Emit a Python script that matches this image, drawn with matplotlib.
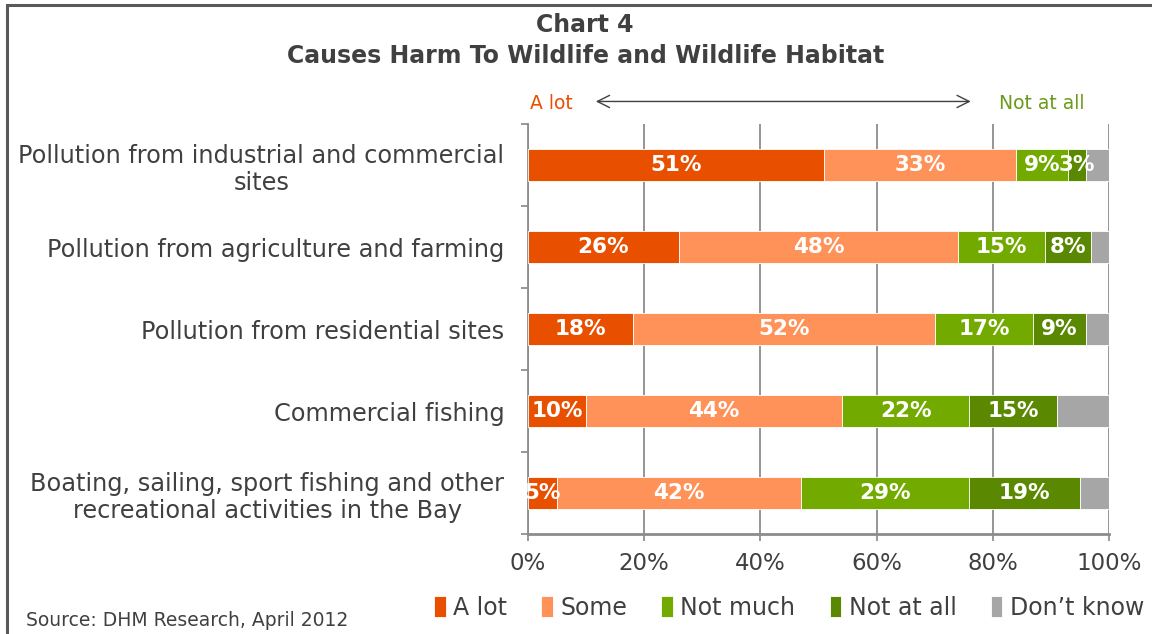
import matplotlib
matplotlib.use("Agg")
import matplotlib.pyplot as plt
from matplotlib.patches import Rectangle
import numpy as np

plt.rcParams['font.family'] = ['DejaVu Sans']

categories = [
    "Pollution from industrial and commercial\nsites",
    "Pollution from agriculture and farming",
    "Pollution from residential sites",
    "Commercial fishing",
    "Boating, sailing, sport fishing and other\nrecreational activities in the Bay",
]
a_lot = [51, 26, 18, 10, 5]
some = [33, 48, 52, 44, 42]
not_much = [9, 15, 17, 22, 29]
not_at_all = [3, 8, 9, 15, 19]
dont_know = [4, 3, 4, 9, 5]

series_names = ["A lot", "Some", "Not much", "Not at all", "Don\u2019t know"]
colors = ["#e85000", "#ff9259", "#72aa00", "#5a8800", "#a6a6a6"]
labelled = [True, True, True, True, False]

text_col = "#404040"

fig = plt.figure(figsize=(11.52, 6.34), dpi=100)
ax = fig.add_axes([0.4583, 0.1577, 0.5043, 0.6467])

y = np.arange(len(categories))
left = np.zeros(len(categories))
series = [a_lot, some, not_much, not_at_all, dont_know]
for vals, name, col, lab in zip(series, series_names, colors, labelled):
    vals = np.array(vals, dtype=float)
    ax.barh(y, vals, left=left, height=0.39, color=col, label=name,
            edgecolor="white", linewidth=0.6, zorder=3)
    if lab:
        for yi, l, v in zip(y, left, vals):
            ax.text(l + v / 2, yi, f"{v:.0f}%", ha="center", va="center",
                    color="white", fontsize=15.5, fontweight="bold", zorder=4)
    left += vals

ax.set_xlim(0, 100)
ax.set_ylim(len(categories) - 0.5, -0.5)
ax.set_xticks(np.arange(0, 101, 20))
ax.set_xticklabels([f"{t}%" for t in range(0, 101, 20)])
ax.set_yticks(np.arange(-0.5, len(categories), 1.0))
ax.set_yticklabels([])
ax.set_yticks(y, minor=True)
ax.set_yticklabels(categories, minor=True, ha="right", ma="center")
ax.tick_params(axis="y", which="minor", length=0, pad=17, labelsize=17.3,
               labelcolor=text_col)
ax.tick_params(axis="y", which="major", length=5, color="#888888", width=1.2)
ax.tick_params(axis="x", length=5, color="#888888", width=1.2, pad=8,
               labelsize=16.5, labelcolor=text_col)

ax.grid(axis="x", color="#8c8c8c", linewidth=1.3, zorder=0)
for side in ["top", "right"]:
    ax.spines[side].set_visible(False)
ax.spines["left"].set_color("#8c8c8c")
ax.spines["left"].set_linewidth(1.3)
ax.spines["bottom"].set_color("#8c8c8c")
ax.spines["bottom"].set_linewidth(2)

# titles
fig.text(0.508, 0.960, "Chart 4", ha="center", va="center", fontsize=17,
         fontweight="bold", color=text_col)
fig.text(0.508, 0.912, "Causes Harm To Wildlife and Wildlife Habitat",
         ha="center", va="center", fontsize=17, fontweight="bold",
         color=text_col)

# scale direction hint above the bars
ax.text(0.003, 1.05, "A lot", transform=ax.transAxes, ha="left", va="center",
        fontsize=13.5, color="#e85000")
ax.text(0.958, 1.05, "Not at all", transform=ax.transAxes, ha="right",
        va="center", fontsize=13.5, color="#6a9a1a")
ax.annotate("", xy=(0.112, 1.055), xytext=(0.767, 1.055),
            xycoords="axes fraction", textcoords="axes fraction",
            arrowprops=dict(arrowstyle="<->", color="#404040", lw=1,
                            mutation_scale=22), annotation_clip=False)

leg = fig.legend(loc="center", bbox_to_anchor=(0.685, 0.041), ncol=5,
                 frameon=False, fontsize=17, handlelength=0.5,
                 handleheight=1.0, handletextpad=0.3, columnspacing=1.45)
for t in leg.get_texts():
    t.set_color(text_col)

fig.text(0.023, 0.021, "Source: DHM Research, April 2012", ha="left",
         va="center", fontsize=13.5, color=text_col)

# outer frame
fig.patches.append(Rectangle((0.006, -0.05), 1.1, 1.042, transform=fig.transFigure,
                             fill=False, edgecolor="#595959", linewidth=2.2))

fig.savefig("out.png", dpi=100)
